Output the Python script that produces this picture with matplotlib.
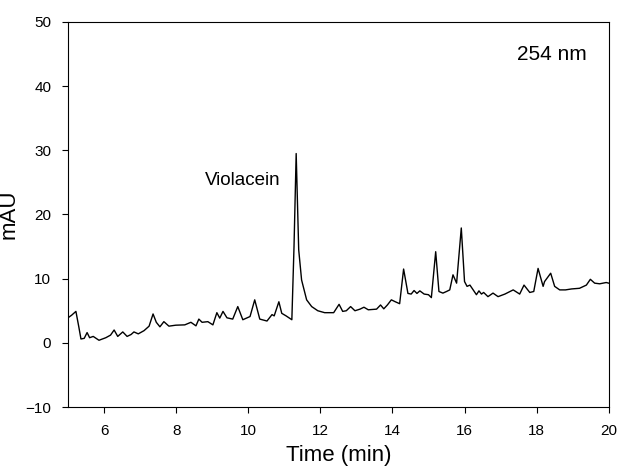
import matplotlib
matplotlib.use('Agg')
from matplotlib import pyplot as plt

plt.rcParams['font.family'] = ['Liberation Sans', 'DejaVu Sans']

# retention time (min) and absorbance (mAU)
time = [5.0, 5.1, 5.22, 5.3, 5.36, 5.45, 5.53, 5.6, 5.7, 5.86, 6.05, 6.18, 6.28, 6.38,
        6.52, 6.64, 6.75, 6.83, 6.95, 7.11, 7.25, 7.36, 7.45, 7.55, 7.66, 7.8, 7.99,
        8.24, 8.41, 8.55, 8.63, 8.72, 8.88, 9.02, 9.13, 9.21, 9.3, 9.41, 9.57, 9.71,
        9.85, 10.05, 10.18, 10.32, 10.52, 10.66, 10.72, 10.85, 10.93, 11.05, 11.21,
        11.27, 11.33, 11.40, 11.48, 11.62, 11.76, 11.93, 12.12, 12.37, 12.52, 12.62,
        12.72, 12.84, 12.96, 13.1, 13.21, 13.33, 13.56, 13.67, 13.76, 13.86, 13.97,
        14.08, 14.2, 14.31, 14.43, 14.52, 14.6, 14.68, 14.76, 14.88, 15.0, 15.08,
        15.2, 15.29, 15.4, 15.5, 15.59, 15.68, 15.78, 15.91, 16.0, 16.07, 16.15,
        16.24, 16.33, 16.4, 16.47, 16.53, 16.65, 16.79, 16.93, 17.12, 17.35, 17.53,
        17.65, 17.81, 17.92, 18.04, 18.18, 18.22, 18.39, 18.5, 18.64, 18.8, 18.97,
        19.19, 19.38, 19.49, 19.61, 19.75, 19.93, 20.0]
mau = [3.9, 4.3, 4.9, 2.5, 0.6, 0.7, 1.6, 0.8, 1.0, 0.4, 0.8, 1.2, 2.0, 1.0,
       1.7, 1.0, 1.3, 1.7, 1.4, 1.9, 2.6, 4.5, 3.2, 2.5, 3.3, 2.6, 2.75,
       2.8, 3.2, 2.65, 3.7, 3.2, 3.3, 2.8, 4.7, 3.85, 4.9, 3.9, 3.7, 5.65,
       3.6, 4.1, 6.7, 3.7, 3.4, 4.4, 4.2, 6.4, 4.6, 4.2, 3.6,
       15.0, 29.5, 14.5, 9.8, 6.7, 5.65, 5.0, 4.7, 4.7, 6.0, 4.9,
       5.0, 5.65, 5.0, 5.25, 5.55, 5.15, 5.25, 5.9, 5.3, 5.9, 6.7,
       6.4, 6.1, 11.5, 7.7, 7.6, 8.15, 7.7, 8.1, 7.6, 7.5, 7.05,
       14.2, 8.0, 7.75, 8.0, 8.25, 10.6, 9.3, 17.9, 9.55, 8.8, 9.0,
       8.25, 7.5, 8.1, 7.6, 7.85, 7.2, 7.75, 7.2, 7.6, 8.25, 7.6,
       9.0, 7.85, 8.0, 11.6, 8.8, 9.55, 10.85, 8.8, 8.25, 8.25, 8.4,
       8.5, 9.0, 9.9, 9.3, 9.2, 9.4, 9.3]

xticks = [6, 8, 10, 12, 14, 16, 18, 20]
yticks = [-10, 0, 10, 20, 30, 40, 50]

fig = plt.figure(figsize=(6.18, 4.66), dpi=100)
ax = fig.add_axes([0.110, 0.1266, 0.875, 0.8262])
ax.plot(time, mau, color='black', linewidth=1.0, solid_joinstyle='round')
ax.set_xlim(5, 20)
ax.set_ylim(-10, 50)
ax.set_xticks(xticks)
ax.set_yticks(yticks)
ax.tick_params(direction='out', length=4, width=0.8, labelsize=11, pad=8)
for s in ax.spines.values():
    s.set_linewidth(0.8)
ax.set_xlabel('Time (min)', fontsize=16, labelpad=5)
ax.set_ylabel('mAU', fontsize=16, labelpad=4)
ax.text(8.8, 25.3, 'Violacein', fontsize=13.5, va='center', ha='left')
ax.text(17.45, 44.9, '254 nm', fontsize=15, va='center', ha='left')
fig.savefig('out.png', dpi=100)
